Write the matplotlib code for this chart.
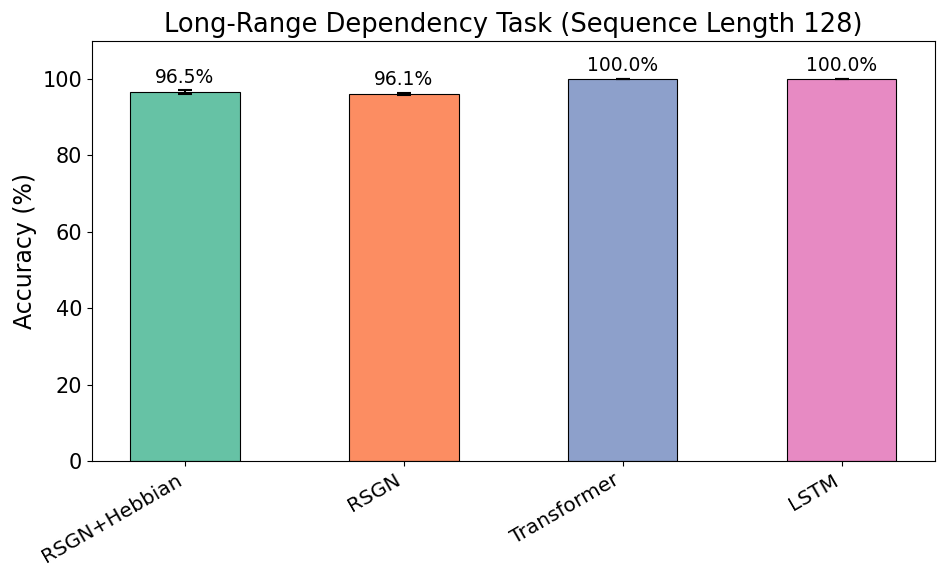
import matplotlib
matplotlib.use("Agg")
import matplotlib.pyplot as plt
import numpy as np

models = ["RSGN+Hebbian", "RSGN", "Transformer", "LSTM"]
accuracy = [96.5, 96.1, 100.0, 100.0]
errors = [0.5, 0.2, 0.0, 0.0]
colours = ["#66c2a5", "#fc8d62", "#8da0cb", "#e78ac3"]

fig = plt.figure(figsize=(9.47, 5.82), dpi=100)
ax = fig.add_axes([0.097, 0.208, 0.890, 0.722])

x = np.arange(len(models))
ax.bar(x, accuracy, width=0.5, color=colours, edgecolor="black", linewidth=0.8,
       yerr=errors, capsize=5, error_kw={"elinewidth": 1.5, "capthick": 1.5})

for xi, v, e in zip(x, accuracy, errors):
    ax.text(xi, v + e + 1.0, f"{v:.1f}%", ha="center", va="bottom", fontsize=13.5)

ax.set_ylim(0, 110)
ax.set_xticks(x)
ax.set_xticklabels(models, rotation=30, ha="right", fontsize=14.5)
ax.tick_params(axis="y", labelsize=15)
ax.set_ylabel("Accuracy (%)", fontsize=17)
ax.set_title("Long-Range Dependency Task (Sequence Length 128)", fontsize=18.5)

fig.savefig("out.png", dpi=100)
